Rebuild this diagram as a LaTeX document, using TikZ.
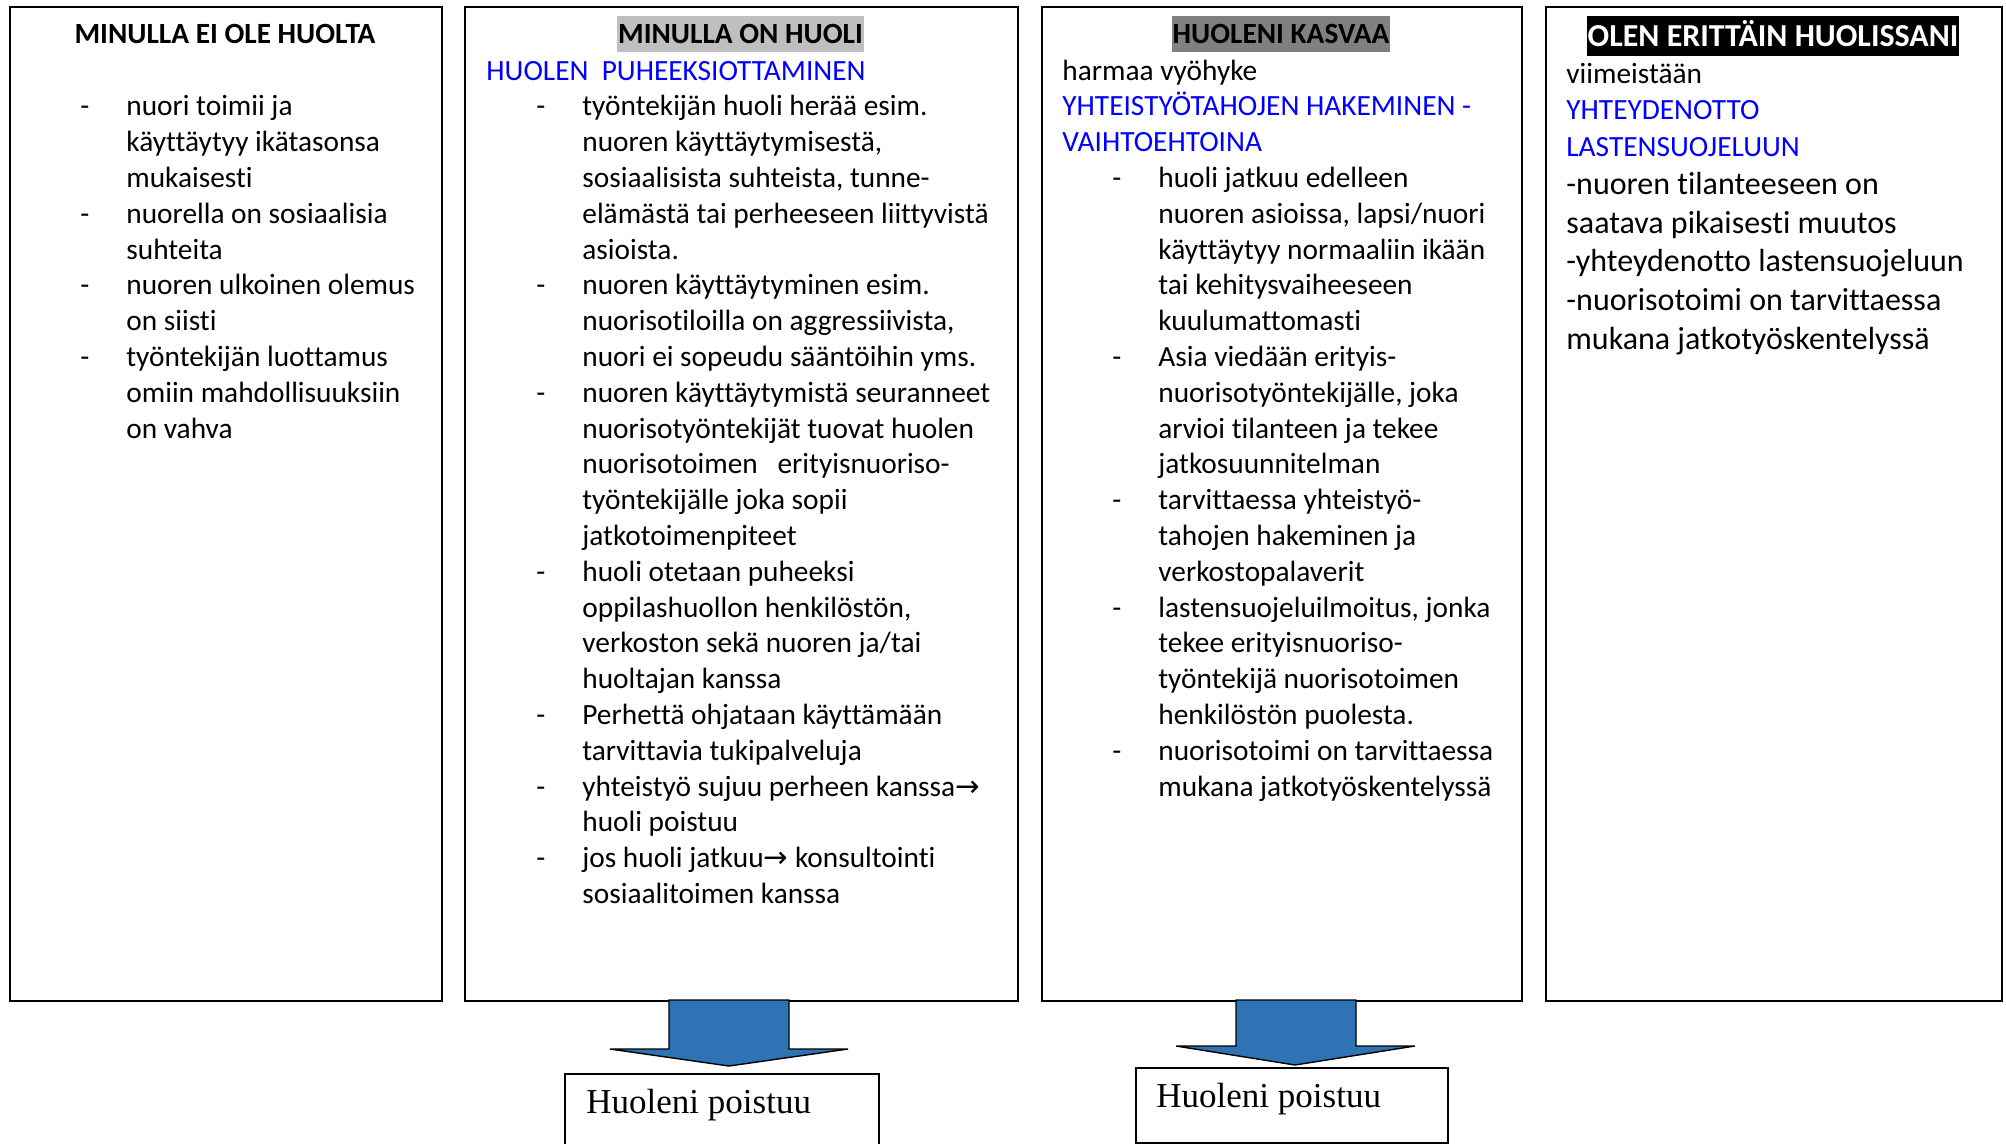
\documentclass[tikz,border=0pt]{standalone}
\usepackage{fontspec}
\setmainfont{Carlito}[Ligatures={NoCommon}]
\newfontfamily\serifbox{Liberation Serif}
\newfontfamily\arrowfont{DejaVu Sans}
\definecolor{huoliblue}{HTML}{0000FF}
\definecolor{lightgrey}{HTML}{BFBFBF}
\definecolor{midgrey}{HTML}{808080}
\definecolor{arrowblue}{HTML}{2E74B5}
\newcommand\bodyfont{\fontsize{14.67}{17.9}\selectfont}
\newcommand\bigbodyfont{\fontsize{16}{19.4}\selectfont}
\newcommand\dashln[1]{\hspace*{25pt}\makebox[23pt][l]{-}#1}
\newcommand\contln[1]{\hspace*{48pt}#1}
\newcommand\bluetext[1]{\textcolor{huoliblue}{#1}}
\newcommand\arr{{\arrowfont →}}

\begin{document}
\begin{tikzpicture}[x=0.5pt,y=-0.5pt,line join=miter]

  \tikzstyle{colbox}=[draw,line width=1pt,anchor=north west,inner sep=0pt]
  \tikzstyle{title}=[anchor=base,font=\bfseries\bodyfont,inner xsep=0.5pt,inner ysep=0pt,
                     text height=14pt,text depth=4pt]
  \tikzstyle{bodytext}=[anchor=north west,inner sep=0pt,align=left,font=\bodyfont]
  \tikzstyle{blockarrow}=[draw,fill=arrowblue,line width=0.7pt]
  \tikzstyle{poistuubox}=[draw,line width=0.8pt,anchor=north west,inner sep=0pt]

  \useasboundingbox (0,0) rectangle (2006,1144);

  % the four columns
  \node[colbox,minimum width=216pt,minimum height=497pt]   (eihuolta) at (9,6)    {};
  \node[colbox,minimum width=276.5pt,minimum height=497pt] (onhuoli)  at (464,6)  {};
  \node[colbox,minimum width=240pt,minimum height=497pt]   (kasvaa)   at (1041,6) {};
  \node[colbox,minimum width=228pt,minimum height=497pt]   (erittain) at (1545,6) {};

  \node[title]                           (t1) at (225,44)    {MINULLA EI OLE HUOLTA};
  \node[title,fill=lightgrey]            (t2) at (740.5,44)  {MINULLA ON HUOLI};
  \node[title,fill=midgrey]              (t3) at (1281,44)   {HUOLENI KASVAA};
  \node[title,fill=black,text=white,font=\bfseries\bigbodyfont,
        text height=15.5pt,text depth=4.5pt] (t4) at (1773,47) {OLEN ERITTÄIN HUOLISSANI};

  \node[bodytext] (b1) at (30,90.5) {\strut\dashln{nuori toimii ja}\\
    \contln{käyttäytyy ikätasonsa}\\
    \contln{mukaisesti}\\
    \dashln{nuorella on sosiaalisia}\\
    \contln{suhteita}\\
    \dashln{nuoren ulkoinen olemus}\\
    \contln{on siisti}\\
    \dashln{työntekijän luottamus}\\
    \contln{omiin mahdollisuuksiin}\\
    \contln{on vahva}};

  \node[bodytext] (b2) at (486,54.7) {\strut\bluetext{HUOLEN\ \ PUHEEKSIOTTAMINEN}\\
    \dashln{työntekijän huoli herää esim.}\\
    \contln{nuoren käyttäytymisestä,}\\
    \contln{sosiaalisista suhteista, tunne-}\\
    \contln{elämästä tai perheeseen liittyvistä}\\
    \contln{asioista.}\\
    \dashln{nuoren käyttäytyminen esim.}\\
    \contln{nuorisotiloilla on aggressiivista,}\\
    \contln{nuori ei sopeudu sääntöihin yms.}\\
    \dashln{nuoren käyttäytymistä seuranneet}\\
    \contln{nuorisotyöntekijät tuovat huolen}\\
    \contln{nuorisotoimen\ \ \ erityisnuoriso-}\\
    \contln{työntekijälle joka sopii}\\
    \contln{jatkotoimenpiteet}\\
    \dashln{huoli otetaan puheeksi}\\
    \contln{oppilashuollon henkilöstön,}\\
    \contln{verkoston sekä nuoren ja/tai}\\
    \contln{huoltajan kanssa}\\
    \dashln{Perhettä ohjataan käyttämään}\\
    \contln{tarvittavia tukipalveluja}\\
    \dashln{yhteistyö sujuu perheen kanssa\arr}\\
    \contln{huoli poistuu}\\
    \dashln{jos huoli jatkuu\arr{} konsultointi}\\
    \contln{sosiaalitoimen kanssa}};

  \node[bodytext] (b3) at (1062,54.7) {\strut harmaa vyöhyke\\
    \bluetext{YHTEISTYÖTAHOJEN HAKEMINEN -}\\
    \bluetext{VAIHTOEHTOINA}\\
    \dashln{huoli jatkuu edelleen}\\
    \contln{nuoren asioissa, lapsi/nuori}\\
    \contln{käyttäytyy normaaliin ikään}\\
    \contln{tai kehitysvaiheeseen}\\
    \contln{kuulumattomasti}\\
    \dashln{Asia viedään erityis-}\\
    \contln{nuorisotyöntekijälle, joka}\\
    \contln{arvioi tilanteen ja tekee}\\
    \contln{jatkosuunnitelman}\\
    \dashln{tarvittaessa yhteistyö-}\\
    \contln{tahojen hakeminen ja}\\
    \contln{verkostopalaverit}\\
    \dashln{lastensuojeluilmoitus, jonka}\\
    \contln{tekee erityisnuoriso-}\\
    \contln{työntekijä nuorisotoimen}\\
    \contln{henkilöstön puolesta.}\\
    \dashln{nuorisotoimi on tarvittaessa}\\
    \contln{mukana jatkotyöskentelyssä}};

  \node[bodytext,font=\fontsize{14.67}{18.3}\selectfont] (b4) at (1566,57) {\strut viimeistään\\
    \bluetext{YHTEYDENOTTO}\\
    \bluetext{LASTENSUOJELUUN}};
  \node[bodytext,font=\bigbodyfont] (b4b) at (1566,166.8) {\strut -nuoren tilanteeseen on\\
    saatava pikaisesti muutos\\
    -yhteydenotto lastensuojeluun\\
    -nuorisotoimi on tarvittaessa\\
    mukana jatkotyöskentelyssä};

  % outcome boxes and block arrows
  \node[poistuubox,minimum width=157pt,minimum height=42pt] (poistuuA) at (564,1073)  {};
  \node[poistuubox,minimum width=156pt,minimum height=37.5pt] (poistuuB) at (1135,1067) {};
  \node[anchor=base west,inner sep=0pt,font=\serifbox\fontsize{17.5}{20}\selectfont]
        (pA) at (586,1113) {Huoleni poistuu};
  \node[anchor=base west,inner sep=0pt,font=\serifbox\fontsize{17.5}{20}\selectfont]
        (pB) at (1156,1107) {Huoleni poistuu};

  \coordinate (tipA) at (729,1066);
  \coordinate (tipB) at (1295,1065);
  \draw[blockarrow] (tipA) -- ++(119,-17) -- ++(-59,0) -- ++(0,-49) -- ++(-120,0)
        -- ++(0,49) -- ++(-59,0) -- cycle;
  \draw[blockarrow] (tipB) -- ++(120,-19) -- ++(-59,0) -- ++(0,-46) -- ++(-120,0)
        -- ++(0,46) -- ++(-60,0) -- cycle;

\end{tikzpicture}
\end{document}
